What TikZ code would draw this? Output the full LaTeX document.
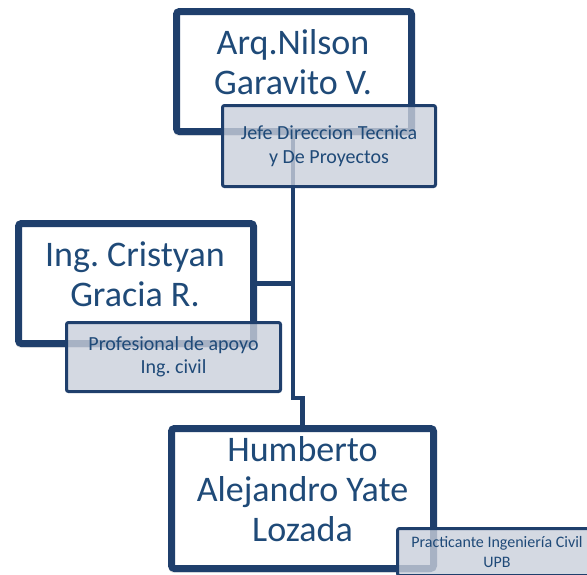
\documentclass[tikz,border=0pt]{standalone}
\usepackage{fontspec}
\setmainfont{Carlito}
\frenchspacing
\usetikzlibrary{shadows}
\definecolor{orgnavy}{HTML}{1F3F6C}
\definecolor{orgtext}{HTML}{1F4A78}
\definecolor{orgfill}{HTML}{C9CFDB}
\tikzset{
	namebox/.style={draw=orgnavy, line width=7pt, fill=white, rounded corners=3pt, drop shadow={opacity=0.25, shadow xshift=-2pt, shadow yshift=-4pt}},
	nametext/.style={text=orgtext, align=center, inner sep=0pt, font=\fontsize{36}{40}\selectfont},
	rolebox/.style={draw=orgnavy, line width=3pt, fill=orgfill, fill opacity=0.8, text opacity=1, text=orgtext, align=center, rounded corners=2pt, inner sep=0pt},
	trunkline/.style={draw=orgnavy, line width=4.5pt}
}

\begin{document}
\begin{tikzpicture}[x=1pt, y=-1pt]
			%%%%% FRAME %%%%%
			\useasboundingbox (0,0) rectangle (587,574);
			\clip (0,0) rectangle (587,574);
			
			%%%%% NAME BOXES %%%%%
			\node[namebox, minimum width=235pt, minimum height=120pt] (nilson) at (294,71.5) {};
			\node[namebox, minimum width=235pt, minimum height=120pt] (cristyan) at (136,283.5) {};
			\node[namebox, minimum width=262pt, minimum height=140pt] (humberto) at (302.5,498.5) {};
			
			%%%%% LINES %%%%%
			\coordinate (trunk) at (293,398);
			\draw[trunkline] (nilson.south -| trunk) -- (trunk) -| (humberto.north);
			\draw[trunkline] (cristyan.east) -- (cristyan.east -| trunk);
			
			%%%%% ROLES %%%%%
			\node[rolebox, minimum width=213pt, minimum height=81pt, font=\fontsize{20}{24}\selectfont] (nilsonrole) at (329,146) {Jefe Direccion Tecnica\\y De Proyectos};
			\node[rolebox, minimum width=214pt, minimum height=69pt, font=\fontsize{20}{23}\selectfont] (cristyanrole) at (173.5,357) {Profesional de apoyo\\Ing. civil};
			\node[rolebox, minimum width=199pt, minimum height=47pt, font=\fontsize{16}{20}\selectfont] (humbertorole) at (497,552) {Practicante Ingeniería Civil\\UPB};
			
			%%%%% NAMES %%%%%
			\node[nametext] (nilsontext) at (293,62) {Arq.Nilson\\Garavito V.};
			\node[nametext] (cristyantext) at (135,274) {Ing. Cristyan\\Gracia R.};
			\node[nametext] (humbertotext) at (302.5,489) {Humberto\\Alejandro Yate\\Lozada};
			
			%%%%% END %%%%%
\end{tikzpicture}
\end{document}
